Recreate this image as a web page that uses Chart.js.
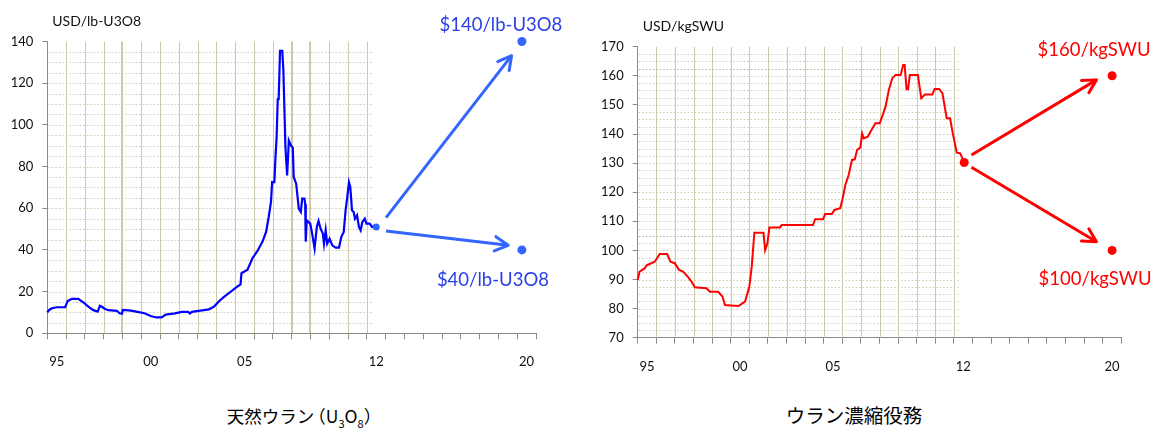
<!DOCTYPE html>
<html lang="ja">
<head>
<meta charset="utf-8">
<title>ウラン価格の推移と見通し</title>
<script src="https://cdn.jsdelivr.net/npm/chart.js@4.4.1/dist/chart.umd.min.js"></script>
<style>
  html, body { margin: 0; padding: 0; background: #fff; }
  #page { position: relative; width: 1153px; height: 430px; overflow: hidden; }
  canvas { position: absolute; top: 0; }
  .caption { position: absolute; font-family: "Noto Sans CJK JP", sans-serif; color: #000;
             text-align: center; white-space: nowrap; }
  .caption sub { font-size: 11px; vertical-align: -5px; line-height: 0; }
</style>
</head>
<body>
<div id="page">
  <canvas id="uranium" width="575" height="400" style="left:0"></canvas>
  <canvas id="swu" width="578" height="400" style="left:575px"></canvas>
  <div class="caption" style="left:204px;top:405px;width:200px;font-size:17.5px;line-height:22px;">天然ウラン<span style="margin-left:-6px">（</span>U<sub>3</sub>O<sub>8</sub>）</div>
  <div class="caption" style="left:754px;top:404px;width:200px;font-size:19.5px;line-height:22px;">ウラン濃縮役務</div>
</div>
<script>
// ---- Natural uranium spot price (USD/lb U3O8), decimal year ----
const uraniumYears = [
  1995.00, 1995.10, 1995.25, 1995.50, 1995.95, 1996.08, 1996.30, 1996.65, 1996.95, 1997.20,
  1997.45, 1997.68, 1997.80, 1997.92, 1998.05, 1998.25, 1998.70, 1998.85, 1998.97, 1999.02,
  1999.45, 1999.80, 2000.17, 2000.50, 2000.80, 2001.08, 2001.30, 2001.80, 2002.15, 2002.50,
  2002.58, 2002.70, 2003.05, 2003.60, 2003.87, 2004.15, 2004.40, 2004.80, 2005.05, 2005.28,
  2005.33, 2005.65, 2005.91, 2006.18, 2006.45, 2006.64, 2006.78, 2006.90, 2006.96, 2007.08,
  2007.14, 2007.20, 2007.26, 2007.31, 2007.38, 2007.50, 2007.56, 2007.67, 2007.76, 2007.85,
  2007.97, 2008.06, 2008.11, 2008.24, 2008.38, 2008.49, 2008.56, 2008.68, 2008.72, 2008.75,
  2008.80, 2008.99, 2009.09, 2009.22, 2009.34, 2009.43, 2009.54, 2009.66, 2009.72, 2009.81,
  2009.89, 2010.02, 2010.16, 2010.34, 2010.52, 2010.64, 2010.77, 2010.87, 2010.96, 2011.05,
  2011.12, 2011.21, 2011.30, 2011.37, 2011.48, 2011.58, 2011.67, 2011.76, 2011.89, 2011.98,
  2012.15, 2012.28, 2012.42, 2012.50
];
const uraniumPrices = [
  10.0, 11.2, 12.0, 12.5, 12.5, 15.5, 16.5, 16.5, 14.6, 12.7,
  11.1, 10.4, 13.2, 12.6, 11.8, 11.1, 10.8, 9.6, 9.4, 11.2,
  10.9, 10.3, 9.6, 8.3, 7.6, 7.6, 9.0, 9.6, 10.3, 10.3,
  9.5, 10.3, 10.8, 11.5, 12.8, 15.5, 17.5, 20.2, 22.0, 23.5,
  28.8, 30.5, 35.9, 39.5, 44.0, 48.6, 55.8, 63.0, 72.5, 72.5,
  84.5, 94.0, 112.4, 112.4, 135.5, 135.5, 126.0, 89.0, 75.7, 92.5,
  90.0, 89.0, 75.0, 71.8, 59.8, 58.2, 64.6, 64.6, 62.0, 44.0,
  54.2, 52.6, 47.8, 40.7, 51.0, 53.9, 50.2, 47.8, 43.0, 49.4,
  43.0, 45.4, 42.2, 41.1, 41.1, 46.2, 48.6, 59.0, 65.4, 72.5,
  70.2, 59.0, 58.2, 55.0, 56.6, 51.0, 49.4, 53.4, 55.0, 52.6,
  52.6, 51.0, 51.8, 51.0
];

// ---- Enrichment service price (USD/kgSWU), decimal year ----
const swuYears = [
  1995.00, 1995.10, 1995.37, 1995.50, 1995.73, 1995.91, 1996.04, 1996.18, 1996.58, 1996.76,
  1996.99, 1997.22, 1997.44, 1997.71, 1997.89, 1998.07, 1998.70, 1998.88, 1999.33, 1999.56,
  1999.69, 2000.41, 2000.59, 2000.77, 2001.00, 2001.13, 2001.27, 2001.76, 2001.85, 2001.97,
  2002.08, 2002.65, 2002.74, 2004.42, 2004.54, 2004.96, 2005.08, 2005.44, 2005.57, 2005.89,
  2006.04, 2006.16, 2006.34, 2006.52, 2006.67, 2006.79, 2006.97, 2007.06, 2007.15, 2007.37,
  2007.51, 2007.78, 2008.01, 2008.14, 2008.32, 2008.50, 2008.68, 2008.86, 2009.13, 2009.27,
  2009.35, 2009.45, 2009.53, 2009.63, 2010.06, 2010.24, 2010.44, 2010.84, 2010.96, 2011.20,
  2011.38, 2011.61, 2011.79, 2011.92, 2012.15, 2012.33, 2012.55
];
const swuPrices = [
  89.8, 92.7, 93.8, 95.0, 95.6, 96.1, 97.3, 98.8, 98.8, 96.1,
  95.6, 93.3, 92.7, 90.8, 89.3, 87.3, 87.0, 85.8, 85.8, 84.1,
  81.2, 80.9, 81.6, 82.4, 87.5, 94.4, 106.1, 106.1, 100.1, 102.4,
  107.9, 107.9, 108.7, 108.7, 110.7, 110.7, 112.5, 112.5, 113.9, 114.5,
  118.5, 122.5, 125.9, 131.1, 131.3, 134.5, 135.4, 140.2, 138.5, 139.1,
  140.8, 143.7, 143.7, 146.0, 149.4, 155.1, 159.1, 160.3, 160.3, 163.7,
  163.7, 155.4, 155.4, 160.3, 160.3, 152.3, 153.6, 153.6, 155.5, 155.5,
  154.0, 145.4, 145.4, 140.8, 133.6, 133.4, 130.2
];

// ---- Year axis ----
const axisFirstYear = 1995;
const axisLastYear = 2021;
const tickLabelYears = [1995, 2000, 2005, 2012, 2020];
const tickLabelText = ['95', '00', '05', '12', '20'];

// ---- 2020 outlook: high / low cases ----
const uraniumTargetYear = 2020.25;
const uraniumTargets = [140, 40];
const uraniumArrowStartYear = 2013.02;
const uraniumArrowFrom = [55.5, 49.1];
const uraniumArrowEndYears = [2019.7, 2019.52];
const uraniumArrowTo = [133.2, 42.2];

const swuTargetYear = 2020.5;
const swuTargets = [160, 100];
const swuArrowStartYear = 2012.94;
const swuArrowFrom = [132.8, 128.6];
const swuArrowEndYears = [2019.66, 2019.66];
const swuArrowTo = [158.6, 103.0];

Chart.defaults.font.family = 'Lato, "Liberation Sans", sans-serif';
Chart.defaults.color = '#111';

const toPoints = (xs, ys) => xs.map((x, i) => ({ x, y: ys[i] }));

// Light "graph paper" grid: solid yearly verticals, dotted horizontals
const paperGrid = {
  id: 'paperGrid',
  beforeDatasetsDraw(chart, args, o) {
    const { ctx, chartArea: a, scales: { x, y } } = chart;
    ctx.save();
    const xEnd = x.getPixelForValue(o.hEnd);
    ctx.setLineDash([1.5, 2]);
    for (let v = o.hFrom; v <= o.hTo + 1e-6; v += o.hStep) {
      const py = Math.round(y.getPixelForValue(v)) + 0.5;
      const strong = o.strong.includes(v);
      ctx.strokeStyle = strong ? o.strongColor : o.dotColor;
      ctx.lineWidth = 1;
      ctx.beginPath();
      ctx.moveTo(a.left + 1, py);
      ctx.lineTo(xEnd, py);
      ctx.stroke();
    }
    ctx.setLineDash([]);
    for (let yr = o.vFrom; yr <= o.vTo; yr++) {
      const thick = o.thick.includes(yr);
      const px = Math.round(x.getPixelForValue(yr)) + (thick ? 0 : 0.5);
      ctx.lineWidth = thick ? 2 : 1;
      ctx.strokeStyle = thick ? o.thickColor : o.lineColor;
      ctx.beginPath();
      ctx.moveTo(px, a.top);
      ctx.lineTo(px, a.bottom);
      ctx.stroke();
    }
    ctx.restore();
  }
};

// Arrow heads, target labels and the unit caption above the value axis
const outlook = {
  id: 'outlook',
  afterDatasetsDraw(chart, args, o) {
    const { ctx, chartArea: a } = chart;
    chart.data.datasets.forEach((ds, i) => {
      const pts = chart.getDatasetMeta(i).data;
      if (ds.arrowHead) {
        const p0 = pts[pts.length - 2], p1 = pts[pts.length - 1];
        const ang = Math.atan2(p1.y - p0.y, p1.x - p0.x);
        ctx.save();
        ctx.strokeStyle = ds.borderColor;
        ctx.lineWidth = ds.borderWidth;
        ctx.lineCap = 'round';
        ctx.lineJoin = 'round';
        ctx.beginPath();
        ctx.moveTo(p1.x - o.headLength * Math.cos(ang - o.headAngle), p1.y - o.headLength * Math.sin(ang - o.headAngle));
        ctx.lineTo(p1.x, p1.y);
        ctx.lineTo(p1.x - o.headLength * Math.cos(ang + o.headAngle), p1.y - o.headLength * Math.sin(ang + o.headAngle));
        ctx.stroke();
        ctx.restore();
      }
      if (ds.targetLabels) {
        ctx.save();
        ctx.font = o.labelFont;
        ctx.fillStyle = o.labelColor;
        ctx.textAlign = 'center';
        ctx.textBaseline = 'middle';
        pts.forEach((p, j) => {
          const off = o.labelOffsets[j];
          ctx.fillText('$' + ds.data[j].y + o.labelUnit, p.x + off[0], p.y + off[1]);
        });
        ctx.restore();
      }
    });
    ctx.save();
    ctx.font = o.unitFont;
    ctx.fillStyle = '#111';
    ctx.textAlign = 'left';
    ctx.textBaseline = 'middle';
    ctx.fillText(o.unit, a.left + 5, a.top - 20);
    ctx.restore();
  }
};

function buildChart(id, c) {
  const canvas = document.getElementById(id);
  const H = canvas.height;
  const n = c.years.length;
  return new Chart(canvas, {
    type: 'line',
    data: {
      datasets: [
        {
          data: toPoints(c.years, c.values),
          borderColor: c.lineColor,
          borderWidth: c.lineWidth,
          tension: 0,
          pointRadius: ctx => (ctx.dataIndex === n - 1 ? c.endRadius : 0),
          pointBackgroundColor: c.endColor,
          pointBorderWidth: 0,
          clip: false
        },
        ...c.arrowTo.map((v, k) => ({
          data: [{ x: c.arrowStartYear, y: c.arrowFrom[k] }, { x: c.arrowEndYears[k], y: v }],
          borderColor: c.arrowColor,
          borderWidth: 3,
          pointRadius: 0,
          arrowHead: true,
          clip: false
        })),
        {
          data: c.targets.map(v => ({ x: c.targetYear, y: v })),
          showLine: false,
          pointRadius: 4.5,
          pointBackgroundColor: c.arrowColor,
          pointBorderWidth: 0,
          targetLabels: true,
          clip: false
        }
      ]
    },
    options: {
      responsive: false,
      animation: false,
      events: [],
      layout: { padding: { top: c.top, right: c.padRight, left: 0, bottom: 0 } },
      scales: {
        x: {
          type: 'linear',
          min: axisFirstYear,
          max: axisLastYear,
          afterBuildTicks: s => {
            const t = [];
            for (let yr = axisFirstYear; yr <= axisLastYear; yr++) t.push({ value: yr });
            s.ticks = t;
          },
          afterFit: s => { s.height = H - c.axisBottom; },
          grid: { drawOnChartArea: false, tickLength: 6, color: '#8a8a8a' },
          border: { color: '#8a8a8a', width: 1 },
          ticks: {
            autoSkip: false,
            maxRotation: 0,
            labelOffset: c.labelOffset,
            padding: c.xPad,
            color: '#111',
            font: { size: 13 },
            callback: v => {
              const k = tickLabelYears.indexOf(v);
              return k >= 0 ? tickLabelText[k] : '';
            }
          }
        },
        y: {
          min: c.yMin,
          max: c.yMax,
          afterFit: s => { s.width = c.axisLeft; },
          grid: { drawOnChartArea: false, tickLength: 5, color: '#8a8a8a' },
          border: { color: '#8a8a8a', width: 1 },
          ticks: { stepSize: c.yStep, padding: 9, color: '#111', font: { size: 13 } }
        }
      },
      plugins: {
        legend: { display: false },
        tooltip: { enabled: false },
        paperGrid: c.grid,
        outlook: {
          headLength: 15,
          headAngle: 0.5,
          labelFont: '18.5px Lato, "Liberation Sans", sans-serif',
          labelColor: c.labelColor,
          labelUnit: c.labelUnit,
          labelOffsets: c.labelOffsets,
          unit: c.unit,
          unitFont: '14px Lato, "Liberation Sans", sans-serif'
        }
      }
    },
    plugins: [paperGrid, outlook]
  });
}

const gridColors = {
  dotColor: 'rgba(190,186,150,0.75)',
  lineColor: 'rgba(205,201,172,1)',
  thickColor: 'rgba(205,201,170,1)'
};

buildChart('uranium', {
  years: uraniumYears, values: uraniumPrices,
  lineColor: '#0000ff', lineWidth: 2.2, endColor: '#3366ff', endRadius: 3.5,
  arrowColor: '#3366ff', labelColor: '#2b3fe8', labelUnit: '/lb-U3O8',
  arrowStartYear: uraniumArrowStartYear, arrowFrom: uraniumArrowFrom,
  arrowEndYears: uraniumArrowEndYears, arrowTo: uraniumArrowTo,
  targetYear: uraniumTargetYear, targets: uraniumTargets,
  labelOffsets: [[-21, -16], [-29, 30]],
  unit: 'USD/lb-U3O8',
  yMin: 0, yMax: 140, yStep: 20,
  top: 41.5, padRight: 39, axisLeft: 47.3, axisBottom: 333.3,
  labelOffset: 9.4, xPad: 15,
  grid: Object.assign({
    hFrom: 5, hTo: 135, hStep: 5, hEnd: 2012.35, strong: [],
    vFrom: 1996, vTo: 2012, thick: [1999, 2008, 2009],
    strongColor: 'rgba(175,170,130,0.9)'
  }, gridColors)
});

buildChart('swu', {
  years: swuYears, values: swuPrices,
  lineColor: '#ff0000', lineWidth: 2, endColor: '#ff0000', endRadius: 4.5,
  arrowColor: '#ff0000', labelColor: '#ff0000', labelUnit: '/kgSWU',
  arrowStartYear: swuArrowStartYear, arrowFrom: swuArrowFrom,
  arrowEndYears: swuArrowEndYears, arrowTo: swuArrowTo,
  targetYear: swuTargetYear, targets: swuTargets,
  labelOffsets: [[-18, -26], [-17, 29]],
  unit: 'USD/kgSWU',
  yMin: 70, yMax: 170, yStep: 10,
  top: 46.7, padRight: 31.6, axisLeft: 62.7, axisBottom: 337.7,
  labelOffset: 9.3, xPad: 15.5,
  grid: Object.assign({
    hFrom: 72.5, hTo: 167.5, hStep: 2.5, hEnd: 2012.35, strong: [105, 162.5],
    vFrom: 1996, vTo: 2012, thick: [],
    strongColor: 'rgba(175,170,130,0.9)'
  }, gridColors)
});
</script>
</body>
</html>
